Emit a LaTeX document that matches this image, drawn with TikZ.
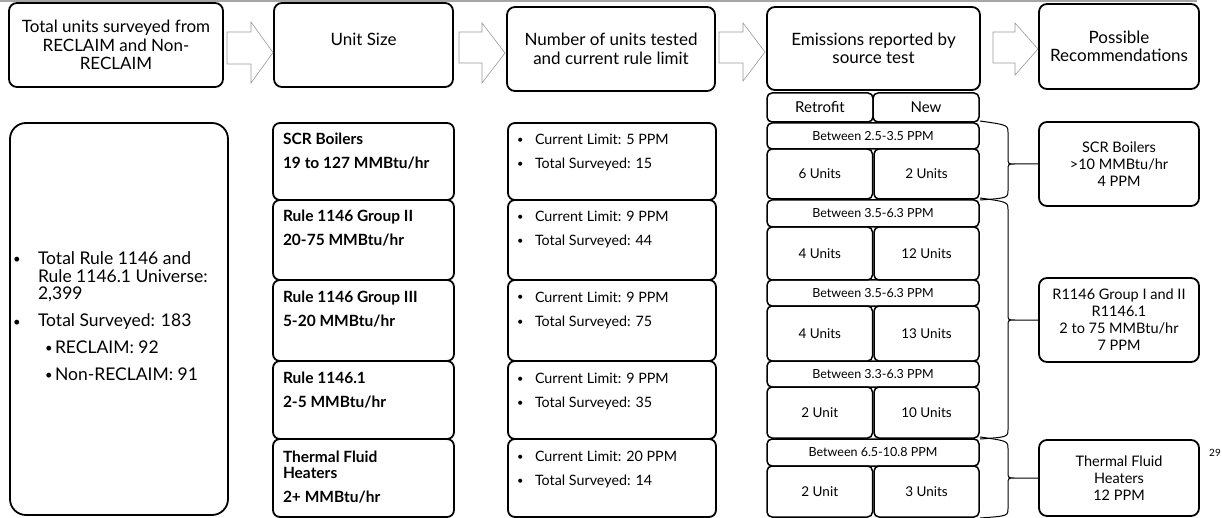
\documentclass[tikz,border=0pt]{standalone}
\usepackage{fontspec}
\setmainfont{Lato}
\usetikzlibrary{calc}
\begin{document}
\begin{tikzpicture}[x=1pt,y=-1pt,
  box/.style={draw, line width=1.8pt, rounded corners=8pt, inner sep=0pt, outer sep=0pt, anchor=north west, align=center},
  hdr/.style={box, font=\fontsize{17}{18.5}\selectfont},
  cell/.style={draw, line width=1.5pt, rounded corners=5pt, inner sep=0pt, outer sep=0pt, anchor=north west, align=center, font=\fontsize{13.5}{15}\selectfont},
  rec/.style={box, font=\fontsize{14.5}{17}\selectfont},
  txt/.style={anchor=base west, inner sep=0pt, outer sep=0pt},
  sizetxt/.style={txt, font=\bfseries\fontsize{15.5}{16}\selectfont},
  limtxt/.style={txt, font=\fontsize{14.3}{16}\selectfont},
  lefttxt/.style={txt, font=\fontsize{17.5}{18}\selectfont},
  blockarrow/.style={draw=black!40, line width=0.6pt, fill=white, line join=miter},
  bracket/.style={draw, line width=1pt},
]
\useasboundingbox (0,0) rectangle (1222,518);

% rule along the top edge
\draw[black!35, line width=1.5pt] (0,1) -- (1197,1);

% ---------- header row ----------
\node[hdr, minimum width=214, minimum height=84] (h1) at (9,3) {Total units surveyed from\\RECLAIM and Non-\\RECLAIM};
\node[hdr, minimum width=179, minimum height=84] (h2) at (274,3) {};
\node[font=\fontsize{17}{18.5}\selectfont, inner sep=0pt] (h2t) at ($(h2.center)+(0,-6)$) {Unit Size};
\node[hdr, minimum width=208, minimum height=84] (h3) at (507,7) {Number of units tested\\and current rule limit};
\node[hdr, minimum width=213, minimum height=83] (h4) at (767,7) {Emissions reported by\\source test};
\node[hdr, minimum width=160, minimum height=85] (h5) at (1039,4) {Possible\\Recommendations};

% hollow block arrows between the header boxes
\newcommand\blockarr[8]{%
  \draw[blockarrow] (#1,#4) -- (#2,#4) -- (#2,#6) -- (#3,#8) -- (#2,#7) -- (#2,#5) -- (#1,#5) -- cycle;}
\blockarr{227}{251}{273}{32}{64}{22}{83}{52.5}
\blockarr{459}{482}{505}{32}{63}{23}{83}{53}
\blockarr{719}{743}{765}{32}{63}{23}{81}{52}
\blockarr{993}{1015}{1038}{32}{63}{23}{75}{49}

% ---------- left summary box ----------
\node[box, rounded corners=16pt, minimum width=218, minimum height=392] (sum) at (10,123) {};
\node[lefttxt, font=\fontsize{13}{14}\selectfont] (s1b) at (13,264) {•};
\node[lefttxt] (s1) at (38,265) {Total Rule 1146 and};
\node[lefttxt] (s2) at (38,282.7) {Rule 1146.1 Universe:};
\node[lefttxt] (s3) at (38,299.5) {2,399};
\node[lefttxt, font=\fontsize{13}{14}\selectfont] (s4b) at (13,326) {•};
\node[lefttxt] (s4) at (38,326.7) {Total Surveyed: 183};
\node[lefttxt, font=\fontsize{13}{14}\selectfont] (s5b) at (45,352.5) {•};
\node[lefttxt] (s5) at (55,353) {RECLAIM: 92};
\node[lefttxt, font=\fontsize{13}{14}\selectfont] (s6b) at (45,379.5) {•};
\node[lefttxt] (s6) at (55,380) {Non-RECLAIM: 91};

% ---------- unit size column ----------
\node[box, rounded corners=7pt, minimum width=181, minimum height=77] (u1) at (273,123) {};
\node[box, rounded corners=7pt, minimum width=181, minimum height=80] (u2) at (273,200) {};
\node[box, rounded corners=7pt, minimum width=181, minimum height=81] (u3) at (273,280) {};
\node[box, rounded corners=7pt, minimum width=181, minimum height=78] (u4) at (273,361) {};
\node[box, rounded corners=7pt, minimum width=181, minimum height=78] (u5) at (273,439) {};

\node[sizetxt] (u1a) at (283,145) {SCR Boilers};
\node[sizetxt] (u1b) at (283,169) {19 to 127 MMBtu/hr};
\node[sizetxt] (u2a) at (283,222) {Rule 1146 Group II};
\node[sizetxt] (u2b) at (283,246) {20-75 MMBtu/hr};
\node[sizetxt] (u3a) at (283,302) {Rule 1146 Group III};
\node[sizetxt] (u3b) at (283,326) {5-20 MMBtu/hr};
\node[sizetxt] (u4a) at (283,383) {Rule 1146.1};
\node[sizetxt] (u4b) at (283,407) {2-5 MMBtu/hr};
\node[sizetxt] (u5a) at (283,462) {Thermal Fluid};
\node[sizetxt] (u5b) at (283,478) {Heaters};
\node[sizetxt] (u5c) at (283,502) {2+ MMBtu/hr};

% ---------- limits column ----------
\node[box, rounded corners=7pt, minimum width=208, minimum height=77] (l1) at (508,123) {};
\node[box, rounded corners=7pt, minimum width=208, minimum height=80] (l2) at (508,200) {};
\node[box, rounded corners=7pt, minimum width=208, minimum height=81] (l3) at (508,280) {};
\node[box, rounded corners=7pt, minimum width=208, minimum height=78] (l4) at (508,361) {};
\node[box, rounded corners=7pt, minimum width=208, minimum height=78] (l5) at (508,439) {};

\foreach \n/\top/\lim/\tot in {1/123/5/15, 2/200/9/44, 3/280/9/75, 4/361/9/35, 5/439/20/14}{
  \node[limtxt, font=\fontsize{11}{12}\selectfont] (lb\n a) at (517,\top+21) {•};
  \node[limtxt] (lt\n a) at (535,\top+22) {Current Limit: \lim\ PPM};
  \node[limtxt, font=\fontsize{11}{12}\selectfont] (lb\n b) at (517,\top+45) {•};
  \node[limtxt] (lt\n b) at (535,\top+46) {Total Surveyed: \tot};
}

% ---------- emissions column ----------
\node[cell, font=\fontsize{15}{16}\selectfont, minimum width=106, minimum height=29] (ret) at (767,93) {Retrofit};
\node[cell, font=\fontsize{15}{16}\selectfont, minimum width=106, minimum height=29] (new) at (873,93) {New};

\foreach \n/\t/\m/\b/\rng/\ra/\nb in {
    1/123/149/199/2.5-3.5/6 Units/2 Units,
    2/200/227/280/3.5-6.3/4 Units/12 Units,
    3/280/306/361/3.5-6.3/4 Units/13 Units,
    4/361/387/438/3.3-6.3/2 Unit/10 Units,
    5/439/466/517/6.5-10.8/2 Unit/3 Units}{
  \node[cell, font=\fontsize{12.5}{13}\selectfont, minimum width=212, minimum height=\m-\t] (eb\n) at (767,\t) {Between \rng\ PPM};
  \node[cell, minimum width=105.5, minimum height=\b-\m] (el\n) at (767,\m) {\ra};
  \node[cell, minimum width=105, minimum height=\b-\m] (er\n) at (874,\m) {\nb};
}

% ---------- recommendations column ----------
\node[rec, minimum width=160, minimum height=84] (r1) at (1039,122) {SCR Boilers\\>10 MMBtu/hr\\4 PPM};
\node[rec, minimum width=160, minimum height=84] (r2) at (1039,278) {R1146 Group I and II\\R1146.1\\2 to 75 MMBtu/hr\\7 PPM};
\node[rec, minimum width=160, minimum height=76] (r3) at (1039,440) {Thermal Fluid\\Heaters\\12 PPM};

% braces gathering emission rows into a recommendation
\newcommand\gather[3]{%
  \draw[bracket] let \p1=(#1.north east), \p2=(#2.south east), \p3=(#3.west) in
    ($(\p1)+(1,-2)$) .. controls (\x1+29pt,\y1-2pt) .. (\x1+29pt,\y1-10pt)
      -- (\x1+29pt,\y3+6pt) .. controls (\x1+29pt,\y3) .. (\x1+36pt,\y3) -- (\p3)
    ($(\p2)+(1,1)$) .. controls (\x1+29pt,\y2+1pt) .. (\x1+29pt,\y2+9pt)
      -- (\x1+29pt,\y3-6pt) .. controls (\x1+29pt,\y3) .. (\x1+36pt,\y3);}
\gather{eb1}{er1}{r1}
\gather{eb2}{er4}{r2}
\gather{eb5}{er5}{r3}

% page number
\node[font=\fontsize{10}{12}\selectfont, inner sep=0pt] (pg) at (1215,453) {29};
\end{tikzpicture}
\end{document}
